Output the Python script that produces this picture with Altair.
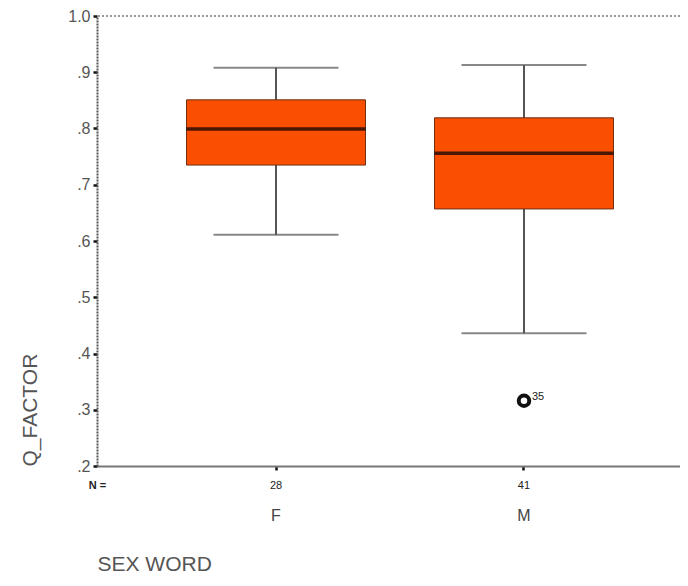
import altair as alt
import pandas as pd

# ---- data ----
cats = ["F", "M"]
n_counts = [28, 41]
whisker_low = [0.611, 0.436]
q1 = [0.735, 0.657]
median = [0.799, 0.756]
q3 = [0.851, 0.819]
whisker_high = [0.908, 0.913]

out_cat = ["M"]
out_val = [0.316]
out_label = ["35"]

y_ticks = [0.2, 0.3, 0.4, 0.5, 0.6, 0.7, 0.8, 0.9, 1.0]

box = pd.DataFrame({
    "cat": cats, "n": n_counts, "lo": whisker_low, "q1": q1,
    "med": median, "q3": q3, "hi": whisker_high,
})
outl = pd.DataFrame({"cat": out_cat, "val": out_val, "lab": out_label})

FONT = "Liberation Sans"
GRAY = "#555555"

xscale = alt.Scale(domain=cats, range=[0, 606], paddingInner=0, paddingOuter=0.2218)
yscale = alt.Scale(domain=[0.2, 1.0], nice=False, zero=False)

x_main = alt.X(
    "cat:N", scale=xscale, sort=cats,
    axis=alt.Axis(
        orient="bottom", title="SEX WORD", labelAngle=0,
        labelFontSize=16, labelColor="#444444", labelFont=FONT,
        labelBaseline="middle", labelPadding=45,
        domainColor="#777777", domainWidth=2,
        tickColor="#111111", tickSize=4, tickWidth=2.5,
        titleFont=FONT, titleFontSize=21, titleFontWeight="normal",
        titleColor=GRAY, titleAnchor="start", titleAlign="left",
        titleBaseline="alphabetic", titleX=0, titleY=104, grid=False,
    ),
)

y_main = alt.Y(
    "lo:Q", scale=yscale,
    axis=alt.Axis(
        title="Q_FACTOR", values=y_ticks, grid=False,
        labelExpr="datum.value >= 1 ? '1.0' : replace(format(datum.value, '.1f'), '0.', '.')",
        labelFontSize=16, labelColor=GRAY, labelFont=FONT, labelPadding=3,
        domainColor="#555555", domainWidth=2, domainDash=[2, 1],
        tickColor="#111111", tickSize=4, tickWidth=2.5,
        titleFont=FONT, titleFontSize=21, titleFontWeight="normal",
        titleColor=GRAY, titleAnchor="start", titlePadding=27,
    ),
)

base = alt.Chart(box)

top_border = alt.Chart(box).mark_rule(color="#999999", strokeWidth=2, strokeDash=[2, 2]).encode(
    y=alt.datum(1.0, scale=yscale)
)

whisk = base.mark_rule(color="#555555", strokeWidth=2).encode(
    x=x_main, y=y_main, y2="hi:Q"
)
cap_lo = base.mark_tick(size=125, thickness=2, color="#555555").encode(
    x=x_main, y=alt.Y("lo:Q", scale=yscale)
)
cap_hi = base.mark_tick(size=125, thickness=2, color="#555555").encode(
    x=x_main, y=alt.Y("hi:Q", scale=yscale)
)
bars = base.mark_bar(size=179, color="#FA4E00", stroke="#6e3018", strokeWidth=1).encode(
    x=x_main, y=alt.Y("q1:Q", scale=yscale), y2="q3:Q"
)
med = base.mark_tick(size=179, thickness=3.5, color="#000000").encode(
    x=x_main, y=alt.Y("med:Q", scale=yscale)
)
pts = alt.Chart(outl).mark_point(shape="circle", size=110, strokeWidth=4,
                                  color="#111111", filled=False, opacity=1).encode(
    x=x_main, y=alt.Y("val:Q", scale=yscale)
)
labs = alt.Chart(outl).mark_text(align="left", baseline="middle", dx=8, dy=-4,
                                 fontSize=11, font=FONT, color="#222222").encode(
    x=x_main, y=alt.Y("val:Q", scale=yscale), text="lab:N"
)

main = alt.layer(top_border, whisk, cap_lo, cap_hi, bars, med, pts, labs)

n_expr = " : ".join(
    [f"datum.value == '{c}' ? '{n}'" for c, n in zip(cats, n_counts)] + ["''"]
)
nlayer = base.mark_text(text="", opacity=0).encode(
    x=alt.X(
        "cat:N", scale=xscale, sort=cats,
        axis=alt.Axis(
            orient="bottom", title="N =", labelAngle=0, labelExpr=n_expr,
            labelFontSize=11, labelColor="#222222", labelFont=FONT,
            labelBaseline="middle", labelPadding=19,
            domain=False, ticks=False, grid=False,
            titleFont=FONT, titleFontSize=11, titleFontWeight="bold",
            titleColor="#222222", titleAlign="center", titleBaseline="middle",
            titleX=0, titleY=19,
        ),
    )
)

chart = alt.layer(main, nlayer).resolve_axis(x="independent").properties(
    width=583, height=450,
    autosize=alt.AutoSizeParams(type="none"),
    padding={"left": 89, "top": 8, "right": 0, "bottom": 108},
).configure_view(strokeWidth=0)

chart.save("out.html", embed_options={"renderer": "svg", "actions": False})
